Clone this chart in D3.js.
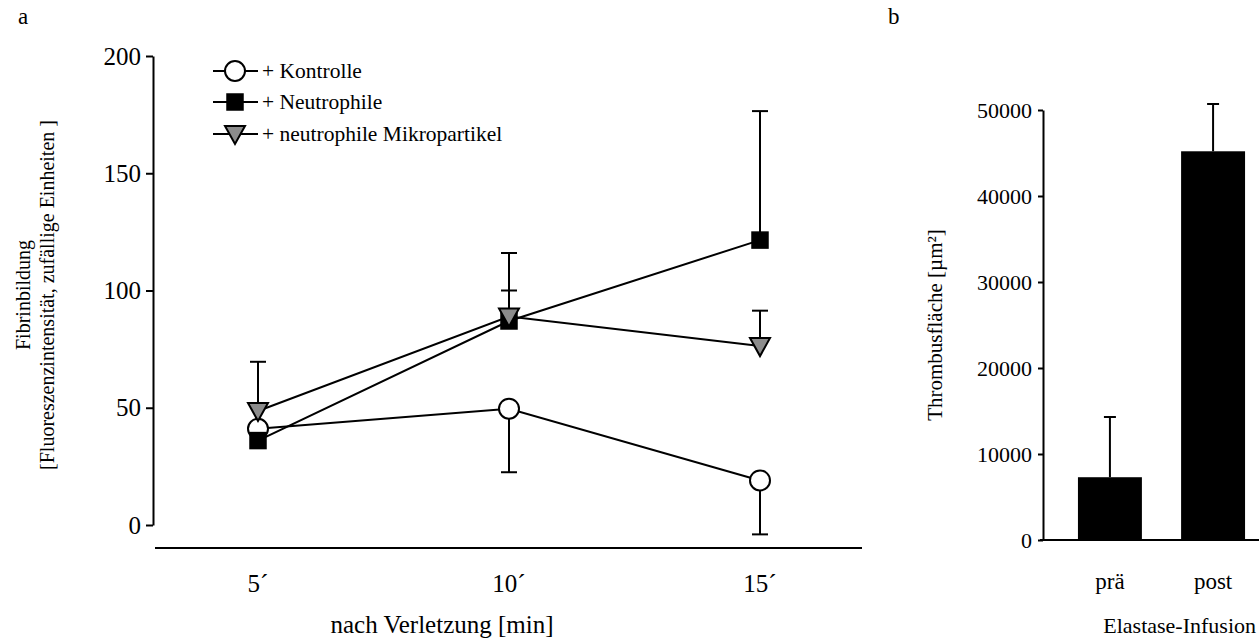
<!DOCTYPE html>
<html>
<head>
<meta charset="utf-8">
<script src="https://cdn.jsdelivr.net/npm/d3@7"></script>
<style>
  body { margin: 0; background: #fff; }
  svg, svg text { font-family: "Liberation Serif", "Times New Roman", "DejaVu Serif", serif !important; fill: #000; }
</style>
</head>
<body>
<svg id="chart" width="1259" height="639"></svg>
<script>
// panel a: fibrin formation after injury
const minutes = [5, 10, 15];
const minuteLabels = ["5´", "10´", "15´"];
const seriesNames = ["+ Kontrolle", "+ Neutrophile", "+ neutrophile Mikropartikel"];
const kontrolle = [41, 49.6, 19];
const neutrophile = [36, 87, 121.5];
const mikropartikel = [48.6, 88.9, 76.3];
// error bar ends (null = not visible)
const kontrolleErr = [null, 22.5, -4];
const neutrophileErr = [null, 116, 176.5];
const mikropartikelErr = [69.6, 100, 91.4];
const yTicksA = [0, 50, 100, 150, 200];

// panel b: thrombus area
const phases = ["prä", "post"];
const thrombus = [7300, 45200];
const thrombusErr = [14300, 50700];
const yTicksB = [0, 10000, 20000, 30000, 40000, 50000];

const FONT = '"Liberation Serif", "Times New Roman", serif';
const svg = d3.select("#chart").style("font-family", FONT);

function txt(sel, size) {
  return sel.style("font-family", FONT).style("font-size", size + "px").attr("fill", "#000");
}

// ---------- panel a ----------
const x = d3.scaleLinear().domain([5, 15]).range([258, 760]);
const y = d3.scaleLinear().domain([0, 200]).range([525, 56]);

const axA = svg.append("g")
  .attr("transform", "translate(153,0)")
  .call(d3.axisLeft(y).tickValues(yTicksA).tickSize(7).tickSizeOuter(0).tickPadding(5));
axA.attr("font-family", null).attr("font-size", null);
axA.select(".domain").attr("stroke-width", 2);
axA.selectAll(".tick line").attr("stroke-width", 2);
txt(axA.selectAll(".tick text"), 25);

// detached x baseline
svg.append("line")
  .attr("x1", 155).attr("x2", 862)
  .attr("y1", 548).attr("y2", 548)
  .attr("stroke", "#000").attr("stroke-width", 2);

txt(svg.append("g").selectAll("text")
  .data(minutes)
  .join("text")
  .attr("x", d => x(d))
  .attr("y", 592)
  .attr("text-anchor", "middle")
  .text((d, i) => minuteLabels[i]), 25);

txt(svg.append("text")
  .attr("x", 442).attr("y", 633)
  .attr("text-anchor", "middle")
  .text("nach Verletzung [min]"), 25);

txt(svg.append("text")
  .attr("transform", "translate(30,295) rotate(-90)")
  .attr("text-anchor", "middle")
  .text("Fibrinbildung"), 20);
txt(svg.append("text")
  .attr("transform", "translate(54,295) rotate(-90)")
  .attr("text-anchor", "middle")
  .text("[Fluoreszenzintensität, zufällige Einheiten ]"), 20);

const series = [
  { name: seriesNames[0], values: kontrolle, err: kontrolleErr, shape: "circle", fill: "#fff" },
  { name: seriesNames[1], values: neutrophile, err: neutrophileErr, shape: "square", fill: "#000" },
  { name: seriesNames[2], values: mikropartikel, err: mikropartikelErr, shape: "triangle", fill: "#8c8c8c" }
];

const line = d3.line().x((d, i) => x(minutes[i])).y(d => y(d));

function drawMarker(g, shape, fill) {
  if (shape === "circle") {
    g.append("circle").attr("r", 10).attr("fill", fill).attr("stroke", "#000").attr("stroke-width", 2);
  } else if (shape === "square") {
    g.append("rect").attr("x", -8).attr("y", -8).attr("width", 16).attr("height", 16)
      .attr("fill", fill).attr("stroke", "#000").attr("stroke-width", 1.5);
  } else {
    g.append("path").attr("d", "M-10,-8 L10,-8 L0,10 Z")
      .attr("fill", fill).attr("stroke", "#000").attr("stroke-width", 2);
  }
}

// error bars
series.forEach(s => {
  s.err.forEach((e, i) => {
    if (e === null) return;
    const cx = x(minutes[i]);
    svg.append("line")
      .attr("x1", cx).attr("x2", cx)
      .attr("y1", y(s.values[i])).attr("y2", y(e))
      .attr("stroke", "#000").attr("stroke-width", 2);
    svg.append("line")
      .attr("x1", cx - 8).attr("x2", cx + 8)
      .attr("y1", y(e)).attr("y2", y(e))
      .attr("stroke", "#000").attr("stroke-width", 2);
  });
});

// lines
series.forEach(s => {
  svg.append("path")
    .datum(s.values)
    .attr("d", line)
    .attr("fill", "none")
    .attr("stroke", "#000")
    .attr("stroke-width", 2);
});

// markers
series.forEach(s => {
  s.values.forEach((v, i) => {
    const g = svg.append("g").attr("transform", `translate(${x(minutes[i])},${y(v)})`);
    drawMarker(g, s.shape, s.fill);
  });
});

// legend
const legendY = [71, 102, 134];
series.forEach((s, i) => {
  const g = svg.append("g").attr("transform", `translate(0,${legendY[i]})`);
  g.append("line").attr("x1", 213).attr("x2", 258).attr("y1", 0).attr("y2", 0)
    .attr("stroke", "#000").attr("stroke-width", 2);
  const m = g.append("g").attr("transform", "translate(235,0)");
  drawMarker(m, s.shape, s.fill);
  txt(g.append("text").attr("x", 262).attr("y", 7).text(s.name), 21.5);
});

txt(svg.append("text").attr("x", 18).attr("y", 24).text("a"), 23);

// ---------- panel b ----------
const xb = d3.scaleBand().domain(phases).range([1047, 1276]).paddingInner(0.38).paddingOuter(0.3);
const yb = d3.scaleLinear().domain([0, 50000]).range([540, 110]);

const axB = svg.append("g")
  .attr("transform", "translate(1043,0)")
  .call(d3.axisLeft(yb).tickValues(yTicksB).tickFormat(d3.format("d")).tickSize(5).tickSizeOuter(0).tickPadding(6));
axB.attr("font-family", null).attr("font-size", null);
axB.select(".domain").attr("stroke-width", 2);
axB.selectAll(".tick line").attr("stroke-width", 2);
txt(axB.selectAll(".tick text"), 22);

// error bars behind bars
phases.forEach((p, i) => {
  const cx = xb(p) + xb.bandwidth() / 2;
  svg.append("line").attr("x1", cx).attr("x2", cx)
    .attr("y1", yb(thrombus[i])).attr("y2", yb(thrombusErr[i]))
    .attr("stroke", "#000").attr("stroke-width", 2);
  svg.append("line").attr("x1", cx - 6).attr("x2", cx + 6)
    .attr("y1", yb(thrombusErr[i])).attr("y2", yb(thrombusErr[i]))
    .attr("stroke", "#000").attr("stroke-width", 2);
});

svg.append("g").selectAll("rect")
  .data(thrombus)
  .join("rect")
  .attr("x", (d, i) => xb(phases[i]))
  .attr("y", d => yb(d))
  .attr("width", xb.bandwidth())
  .attr("height", d => yb(0) - yb(d))
  .attr("fill", "#000");

svg.append("line")
  .attr("x1", 1040).attr("x2", 1259)
  .attr("y1", 540).attr("y2", 540)
  .attr("stroke", "#000").attr("stroke-width", 2);

txt(svg.append("g").selectAll("text")
  .data(phases)
  .join("text")
  .attr("x", d => xb(d) + xb.bandwidth() / 2)
  .attr("y", 589)
  .attr("text-anchor", "middle")
  .text(d => d), 23);

txt(svg.append("text")
  .attr("x", 1256).attr("y", 633)
  .attr("text-anchor", "end")
  .text("Elastase-Infusion"), 22);

txt(svg.append("text")
  .attr("transform", "translate(942,325) rotate(-90)")
  .attr("text-anchor", "middle")
  .text("Thrombusfläche [µm²]"), 21);

txt(svg.append("text").attr("x", 888).attr("y", 24).text("b"), 23);
</script>
</body>
</html>
